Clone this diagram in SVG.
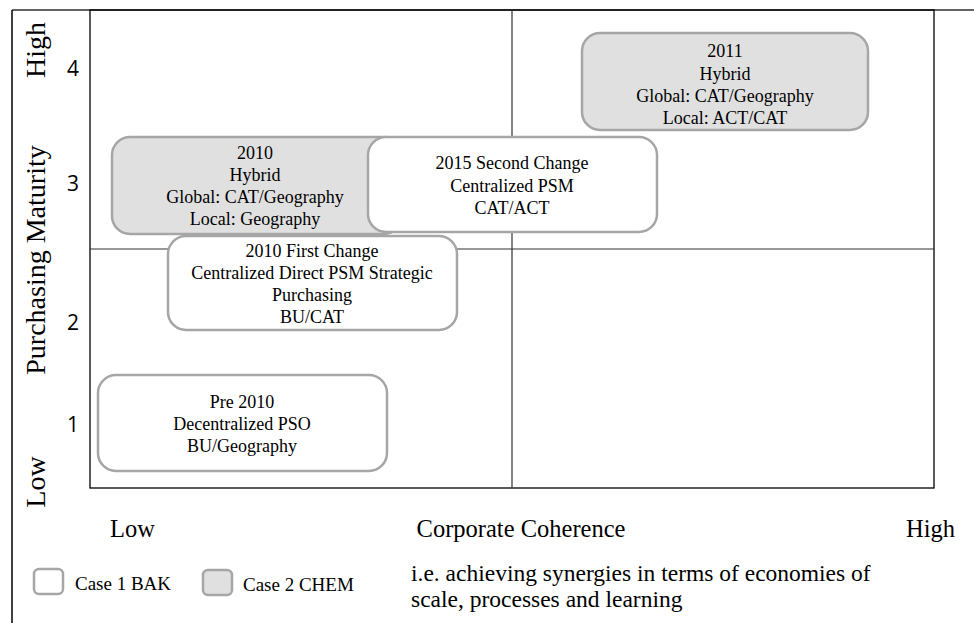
<svg xmlns="http://www.w3.org/2000/svg" width="974" height="623" viewBox="0 0 974 623">
  <style>
    .serif { font-family: "Liberation Serif", "Times New Roman", serif; fill: #000; }
    .num { font-family: "Open Sans", "Liberation Sans", sans-serif; font-size: 21px; fill: #000; }
    .axis { font-size: 24.5px; }
    .vaxis { font-size: 28px; }
    .boxtxt { font-size: 18px; text-anchor: middle; }
    .legtxt { font-size: 19px; }
    .note { font-size: 23.5px; }
    .box { stroke: #a6a6a6; stroke-width: 2.5; }
    .case1 { fill: #ffffff; }
    .case2 { fill: #e0e0e0; }
  </style>

  <rect width="974" height="623" fill="#ffffff"/>

  <!-- outer frame -->
  <g id="frame" fill="none">
    <line x1="12" y1="10" x2="974" y2="10" stroke="#303030" stroke-width="1.5"/>
    <line x1="12" y1="10" x2="12" y2="623" stroke="#000" stroke-width="1.5"/>
  </g>

  <!-- quadrant grid -->
  <g id="grid" fill="none">
    <rect x="90" y="10" width="844" height="478" stroke="#000" stroke-width="1.3"/>
    <line x1="512" y1="10" x2="512" y2="488" stroke="#333" stroke-width="1.2"/>
    <line x1="90" y1="249" x2="934" y2="249" stroke="#333" stroke-width="1.2"/>
  </g>

  <!-- vertical axis -->
  <g id="y-axis">
    <text class="serif vaxis" transform="translate(45,50) rotate(-90)" text-anchor="middle">High</text>
    <text class="serif vaxis" transform="translate(45,260) rotate(-90)" text-anchor="middle">Purchasing Maturity</text>
    <text class="serif vaxis" transform="translate(45,482) rotate(-90)" text-anchor="middle">Low</text>
    <text class="num" x="73" y="76" text-anchor="middle">4</text>
    <text class="num" x="73" y="191" text-anchor="middle">3</text>
    <text class="num" x="73" y="330" text-anchor="middle">2</text>
    <text class="num" x="73" y="432" text-anchor="middle">1</text>
  </g>

  <!-- horizontal axis -->
  <g id="x-axis">
    <text class="serif axis" x="110" y="537">Low</text>
    <text class="serif axis" x="521" y="537" text-anchor="middle">Corporate Coherence</text>
    <text class="serif axis" x="955" y="537" text-anchor="end">High</text>
    <text class="serif note" x="411" y="581">i.e. achieving synergies in terms of economies of</text>
    <text class="serif note" x="411" y="607">scale, processes and learning</text>
  </g>

  <!-- legend -->
  <g id="legend">
    <rect class="box case1" x="34" y="569" width="29" height="25" rx="5"/>
    <text class="serif legtxt" x="75" y="590">Case 1 BAK</text>
    <rect class="box case2" x="203" y="570" width="29" height="25" rx="5"/>
    <text class="serif legtxt" x="243" y="591">Case 2 CHEM</text>
  </g>

  <!-- stages -->
  <g id="node-2010-hybrid">
    <rect class="box case2" x="112" y="137" width="290" height="97" rx="18"/>
    <text class="serif boxtxt" x="255" y="159">2010</text>
    <text class="serif boxtxt" x="255" y="181">Hybrid</text>
    <text class="serif boxtxt" x="255" y="203">Global: CAT/Geography</text>
    <text class="serif boxtxt" x="255" y="225">Local: Geography</text>
  </g>

  <g id="node-2015-second-change">
    <rect class="box case1" x="368" y="137" width="289" height="95" rx="18"/>
    <text class="serif boxtxt" x="512" y="169">2015 Second Change</text>
    <text class="serif boxtxt" x="512" y="192">Centralized PSM</text>
    <text class="serif boxtxt" x="512" y="214">CAT/ACT</text>
  </g>

  <g id="node-2010-first-change">
    <rect class="box case1" x="168" y="236" width="289" height="94" rx="18"/>
    <text class="serif boxtxt" x="312" y="257">2010 First Change</text>
    <text class="serif boxtxt" x="312" y="279">Centralized Direct PSM Strategic</text>
    <text class="serif boxtxt" x="312" y="301">Purchasing</text>
    <text class="serif boxtxt" x="312" y="323">BU/CAT</text>
  </g>

  <g id="node-2011-hybrid">
    <rect class="box case2" x="582" y="33" width="286" height="97" rx="18"/>
    <text class="serif boxtxt" x="725" y="57">2011</text>
    <text class="serif boxtxt" x="725" y="80">Hybrid</text>
    <text class="serif boxtxt" x="725" y="102">Global: CAT/Geography</text>
    <text class="serif boxtxt" x="725" y="124">Local: ACT/CAT</text>
  </g>

  <g id="node-pre-2010">
    <rect class="box case1" x="98" y="375" width="289" height="96" rx="18"/>
    <text class="serif boxtxt" x="242" y="408">Pre 2010</text>
    <text class="serif boxtxt" x="242" y="430">Decentralized PSO</text>
    <text class="serif boxtxt" x="242" y="452">BU/Geography</text>
  </g>
</svg>
